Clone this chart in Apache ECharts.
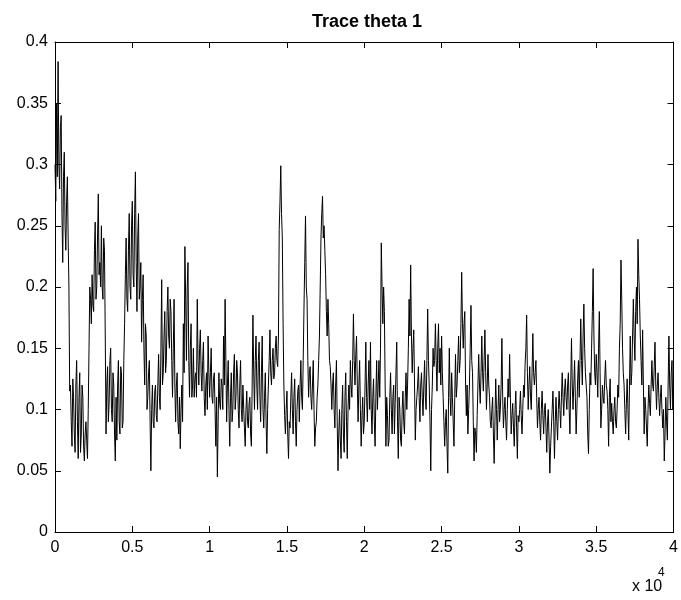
<!DOCTYPE html>
<html>
<head>
<meta charset="utf-8">
<script src="https://cdn.jsdelivr.net/npm/echarts@6/dist/echarts.min.js"></script>
<style>
  html, body { margin: 0; padding: 0; background: #fff; }
  #chart { width: 681px; height: 600px; }
</style>
</head>
<body>
<div id="chart"></div>
<script>
// MCMC trace of theta 1, one value read every 50 iterations (0 .. 40000)
const sampleStep = 50;
const theta1 = [
  0.30,0.27,0.35,0.29,0.384,0.30,0.28,0.33,0.34,0.26,0.22,0.29,0.31,0.25,0.23,0.27,0.29,0.24,0.20,0.115,
  0.12,0.09,0.07,0.125,0.11,0.08,0.065,0.12,0.14,0.09,0.06,0.11,0.13,0.065,0.08,0.12,0.11,0.07,0.058,0.08,
  0.09,0.075,0.06,0.10,0.15,0.20,0.19,0.17,0.21,0.185,0.18,0.23,0.253,0.19,0.20,0.24,0.276,0.21,0.22,0.20,
  0.25,0.20,0.19,0.24,0.23,0.16,0.08,0.12,0.135,0.09,0.105,0.14,0.15,0.10,0.09,0.13,0.12,0.08,0.058,0.11,
  0.075,0.12,0.14,0.09,0.08,0.135,0.13,0.085,0.09,0.14,0.17,0.21,0.24,0.19,0.18,0.23,0.26,0.20,0.19,0.25,
  0.27,0.21,0.20,0.26,0.294,0.22,0.18,0.24,0.26,0.19,0.20,0.22,0.155,0.19,0.21,0.15,0.12,0.17,0.16,0.10,
  0.11,0.13,0.14,0.09,0.05,0.10,0.12,0.09,0.085,0.115,0.12,0.095,0.09,0.12,0.145,0.11,0.10,0.15,0.206,0.12,
  0.13,0.16,0.18,0.13,0.14,0.18,0.20,0.16,0.15,0.19,0.18,0.14,0.11,0.15,0.19,0.12,0.09,0.12,0.13,0.09,
  0.08,0.11,0.068,0.10,0.12,0.09,0.17,0.13,0.233,0.19,0.14,0.20,0.22,0.14,0.11,0.15,0.17,0.11,0.12,0.15,
  0.11,0.125,0.13,0.11,0.19,0.14,0.12,0.15,0.165,0.13,0.115,0.14,0.155,0.11,0.095,0.12,0.13,0.10,0.16,0.13,
  0.11,0.13,0.15,0.11,0.105,0.125,0.13,0.10,0.07,0.11,0.045,0.09,0.13,0.105,0.10,0.125,0.12,0.10,0.16,0.12,
  0.19,0.14,0.09,0.12,0.14,0.10,0.07,0.11,0.13,0.09,0.10,0.13,0.145,0.10,0.11,0.14,0.13,0.10,0.085,0.12,
  0.14,0.10,0.09,0.12,0.12,0.085,0.07,0.10,0.115,0.09,0.085,0.105,0.11,0.08,0.07,0.12,0.177,0.13,0.10,0.14,
  0.16,0.12,0.10,0.14,0.155,0.11,0.09,0.13,0.16,0.10,0.085,0.11,0.13,0.09,0.064,0.10,0.12,0.14,0.165,0.13,
  0.12,0.14,0.15,0.125,0.13,0.15,0.16,0.14,0.135,0.16,0.247,0.27,0.299,0.26,0.24,0.17,0.12,0.095,0.08,0.10,
  0.115,0.08,0.06,0.09,0.085,0.11,0.13,0.10,0.08,0.11,0.125,0.09,0.07,0.10,0.115,0.12,0.09,0.12,0.14,0.11,
  0.10,0.14,0.182,0.22,0.258,0.20,0.19,0.14,0.11,0.13,0.135,0.11,0.10,0.12,0.14,0.10,0.07,0.085,0.09,0.11,
  0.12,0.14,0.16,0.20,0.24,0.26,0.274,0.24,0.25,0.23,0.21,0.18,0.16,0.19,0.17,0.14,0.135,0.12,0.10,0.12,
  0.13,0.10,0.085,0.12,0.14,0.09,0.05,0.08,0.10,0.075,0.06,0.10,0.12,0.08,0.065,0.11,0.13,0.09,0.06,0.10,
  0.12,0.10,0.14,0.12,0.11,0.14,0.178,0.14,0.12,0.145,0.16,0.12,0.09,0.12,0.14,0.10,0.07,0.095,0.11,0.08,
  0.09,0.12,0.155,0.11,0.09,0.12,0.14,0.10,0.155,0.10,0.08,0.11,0.125,0.09,0.07,0.11,0.14,0.10,0.12,0.14,
  0.11,0.15,0.236,0.20,0.17,0.20,0.18,0.12,0.07,0.11,0.095,0.07,0.075,0.11,0.13,0.10,0.08,0.11,0.12,0.08,
  0.105,0.13,0.155,0.09,0.06,0.11,0.10,0.075,0.07,0.10,0.115,0.09,0.08,0.11,0.13,0.10,0.12,0.15,0.19,0.16,
  0.218,0.16,0.13,0.15,0.165,0.12,0.075,0.10,0.11,0.12,0.135,0.11,0.09,0.12,0.13,0.11,0.095,0.12,0.14,0.11,
  0.10,0.14,0.182,0.14,0.12,0.09,0.05,0.10,0.12,0.15,0.135,0.14,0.17,0.14,0.115,0.15,0.17,0.13,0.15,0.12,
  0.16,0.13,0.11,0.09,0.07,0.09,0.10,0.07,0.048,0.11,0.15,0.11,0.095,0.13,0.11,0.09,0.07,0.11,0.145,0.11,
  0.12,0.14,0.16,0.13,0.14,0.17,0.212,0.17,0.15,0.17,0.18,0.12,0.095,0.12,0.08,0.10,0.12,0.15,0.185,0.14,
  0.13,0.09,0.058,0.085,0.08,0.065,0.095,0.12,0.145,0.12,0.105,0.13,0.16,0.13,0.115,0.14,0.165,0.13,0.10,0.12,
  0.145,0.12,0.11,0.09,0.085,0.10,0.11,0.08,0.056,0.09,0.125,0.10,0.075,0.10,0.12,0.09,0.10,0.12,0.158,0.11,
  0.085,0.10,0.11,0.09,0.075,0.10,0.125,0.11,0.145,0.11,0.08,0.095,0.105,0.085,0.07,0.10,0.115,0.085,0.06,0.095,
  0.09,0.10,0.115,0.095,0.08,0.10,0.12,0.11,0.137,0.15,0.177,0.13,0.10,0.12,0.135,0.11,0.10,0.13,0.162,0.13,
  0.12,0.13,0.14,0.11,0.085,0.10,0.11,0.09,0.075,0.10,0.115,0.095,0.08,0.10,0.105,0.085,0.065,0.09,0.10,0.075,
  0.048,0.07,0.085,0.10,0.115,0.09,0.06,0.09,0.11,0.09,0.075,0.10,0.115,0.10,0.085,0.11,0.13,0.11,0.095,0.115,
  0.125,0.11,0.10,0.12,0.13,0.10,0.08,0.12,0.158,0.12,0.10,0.12,0.14,0.11,0.08,0.10,0.125,0.14,0.11,0.14,
  0.174,0.14,0.12,0.16,0.186,0.15,0.13,0.12,0.11,0.08,0.064,0.10,0.13,0.12,0.15,0.18,0.215,0.16,0.13,0.12,
  0.145,0.13,0.11,0.15,0.18,0.13,0.085,0.10,0.12,0.11,0.105,0.125,0.14,0.12,0.115,0.10,0.07,0.11,0.125,0.09,
  0.105,0.09,0.08,0.10,0.11,0.09,0.085,0.10,0.12,0.11,0.15,0.17,0.222,0.19,0.15,0.13,0.12,0.10,0.08,0.105,
  0.125,0.10,0.075,0.12,0.16,0.12,0.13,0.16,0.19,0.16,0.14,0.18,0.20,0.17,0.239,0.21,0.19,0.16,0.14,0.12,
  0.165,0.12,0.08,0.11,0.10,0.085,0.07,0.10,0.12,0.105,0.095,0.12,0.14,0.12,0.115,0.135,0.155,0.12,0.10,0.12,
  0.13,0.11,0.095,0.11,0.12,0.10,0.085,0.10,0.058,0.08,0.11,0.09,0.075,0.12,0.16,0.12,0.10,0.13,0.14,0.10,
  0.115
];
const xTickLabels = ['0','0.5','1','1.5','2','2.5','3','3.5','4'];
const yTickLabels = ['0','0.05','0.1','0.15','0.2','0.25','0.3','0.35','0.4'];
const titleText = 'Trace theta 1';
const xExponentBase = 'x 10';
const xExponent = '4';

const FONT = '"Liberation Sans", Arial, Helvetica, sans-serif';
const chart = echarts.init(document.getElementById('chart'), null, { renderer: 'canvas' });

const axisCommon = {
  type: 'value',
  axisLine: { show: true, onZero: false, lineStyle: { color: '#000', width: 1 } },
  axisTick: { show: true, inside: true, length: 6, lineStyle: { color: '#000', width: 1 } },
  splitLine: { show: false }
};

const option = {
  animation: false,
  backgroundColor: '#fff',
  title: {
    text: titleText,
    left: 362,
    top: 8,
    textAlign: 'center',
    textStyle: { fontFamily: FONT, fontSize: 18, fontWeight: 'bold', color: '#000' }
  },
  grid: { left: 55, right: 6, top: 42, bottom: 68 },
  xAxis: [
    Object.assign({}, axisCommon, {
      position: 'bottom', min: 0, max: 40000, interval: 5000,
      axisLabel: {
        color: '#000', fontSize: 16, fontFamily: FONT, margin: 8,
        formatter: v => xTickLabels[Math.round(v / 5000)]
      }
    }),
    Object.assign({}, axisCommon, {
      position: 'top', min: 0, max: 40000, interval: 5000,
      axisLabel: { show: false }
    })
  ],
  yAxis: [
    Object.assign({}, axisCommon, {
      position: 'left', min: 0, max: 0.4, interval: 0.05,
      axisLabel: {
        color: '#000', fontSize: 16, fontFamily: FONT, margin: 7,
        formatter: v => yTickLabels[Math.round(v / 0.05)]
      }
    }),
    Object.assign({}, axisCommon, {
      position: 'right', min: 0, max: 0.4, interval: 0.05,
      axisLabel: { show: false }
    })
  ],
  graphic: [
    { type: 'text', left: 632, top: 579,
      style: { text: xExponentBase, font: '16px ' + FONT, fill: '#000' } },
    { type: 'text', left: 658, top: 567,
      style: { text: xExponent, font: '12px ' + FONT, fill: '#000' } }
  ],
  series: [{
    type: 'line',
    xAxisIndex: 0,
    yAxisIndex: 0,
    showSymbol: false,
    symbol: 'none',
    lineStyle: { color: '#000', width: 1 },
    data: theta1.map((v, i) => [i * sampleStep, v])
  }]
};
chart.setOption(option);
</script>
</body>
</html>
